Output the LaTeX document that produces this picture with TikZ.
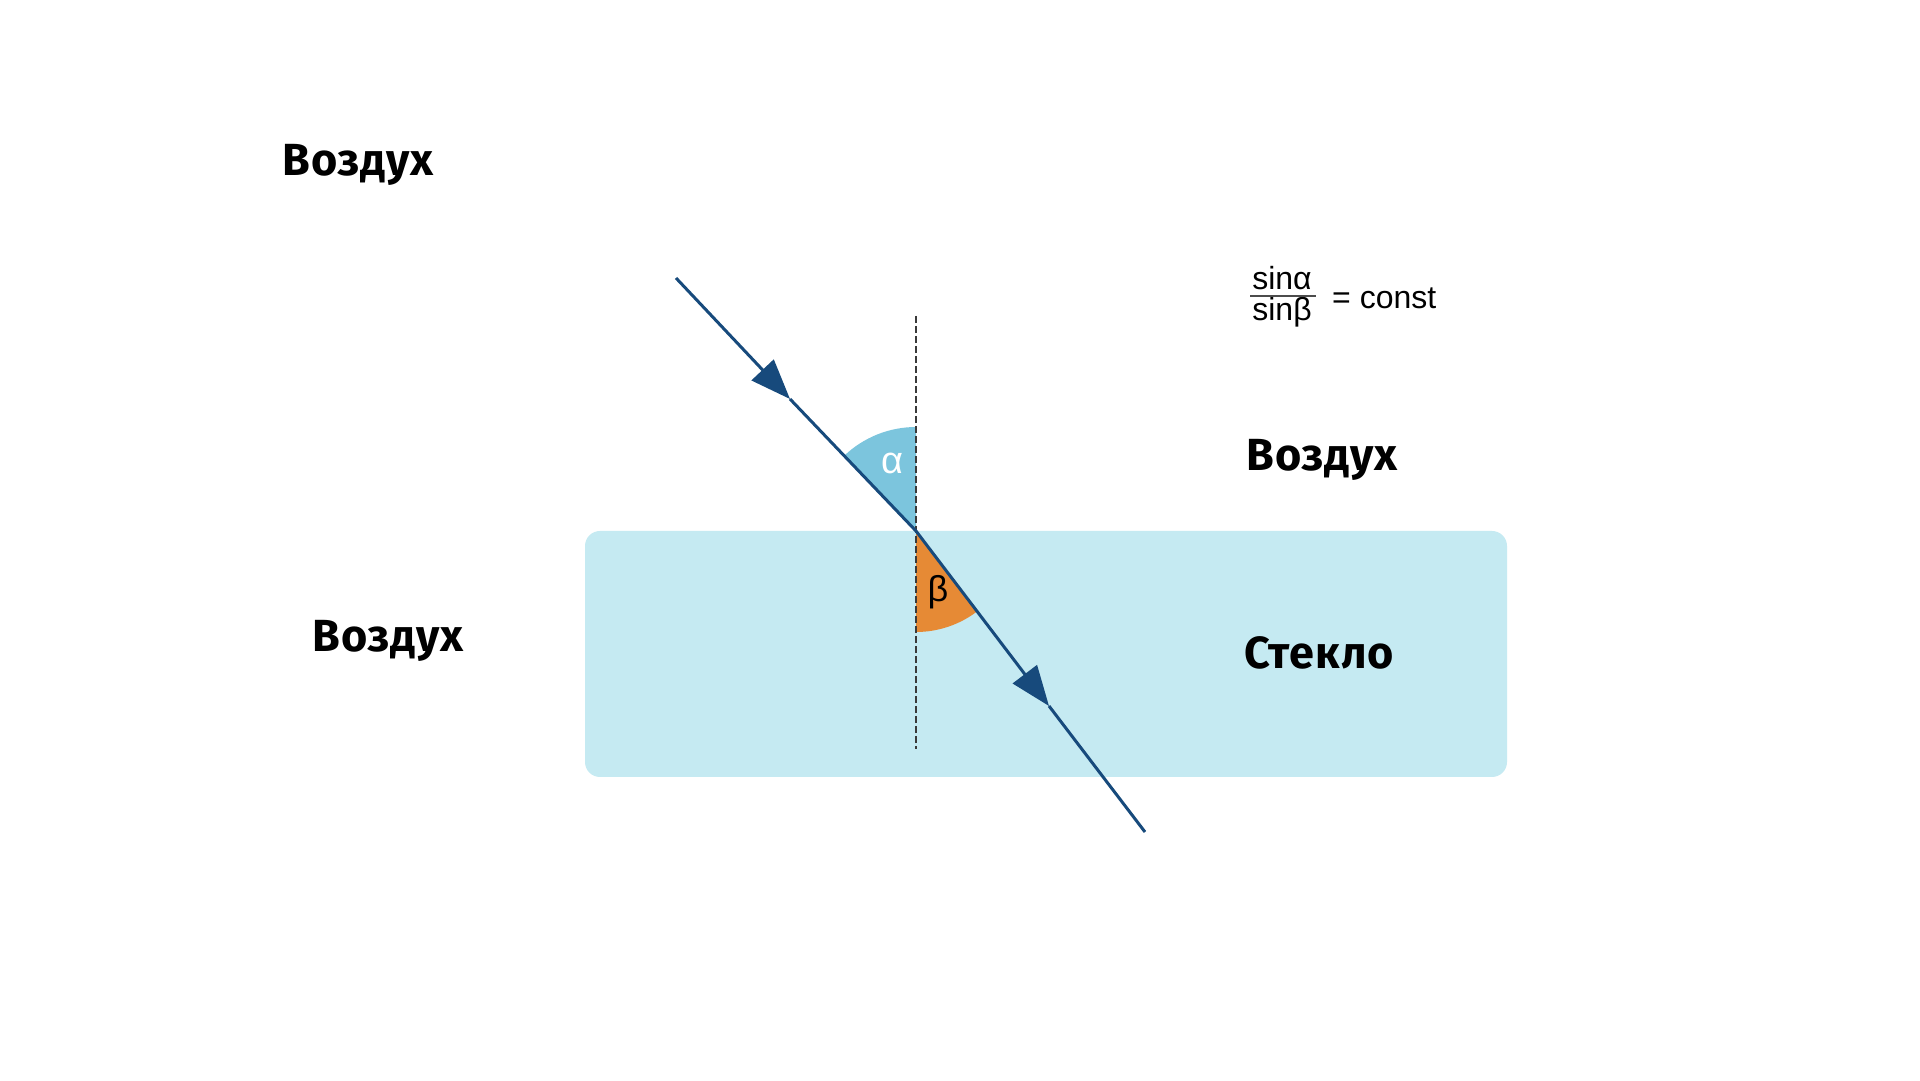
\documentclass[tikz,border=0pt]{standalone}
\usepackage{fontspec}
\setmainfont{Liberation Sans}
\newfontfamily\lblfont[LetterSpace=2.0]{Fira Sans}
\usetikzlibrary{arrows.meta}
\definecolor{glass}{HTML}{C5EAF2}
\definecolor{raycol}{HTML}{174A7C}
\definecolor{alphacol}{HTML}{7CC5DD}
\definecolor{betacol}{HTML}{E68A35}
\definecolor{dashcol}{HTML}{3A3A3A}
\tikzset{
  medium/.style={font=\lblfont\bfseries\fontsize{45}{50}\selectfont, inner sep=0pt, text=black},
  ray/.style={draw=raycol, line width=3pt},
  rayarrow/.style={ray, -{Triangle[length=40pt,width=30pt]}},
  normal/.style={draw=dashcol, line width=1.2pt, dash pattern=on 7pt off 3pt},
  formula/.style={font=\fontsize{32}{34}\selectfont, inner sep=0pt, anchor=base},
}
\begin{document}
\begin{tikzpicture}[x=1pt,y=1pt]
\useasboundingbox (0,0) rectangle (1920,1080);
\fill[white] (0,0) rectangle (1920,1080);
% glass
\fill[glass, rounded corners=15pt] (585,303) rectangle (1507,549);
% coordinates
\coordinate (I) at (916,549);
\coordinate (S) at (676,802);
\coordinate (T1) at (790,681);
\coordinate (T2) at (1049,374);
\coordinate (E) at (1145,248);
\coordinate (NT) at (916,764);
\coordinate (NB) at (916,331);
% angles
\fill[alphacol] (I) -- ++(0,104) arc[start angle=90, end angle=133.5, radius=104] -- cycle;
\fill[betacol] (I) -- ++(0,-101) arc[start angle=-90, end angle=-52.7, radius=101] -- cycle;
% normal
\draw[normal] (NT) -- (NB);
% ray
\draw[rayarrow] (S) -- (T1);
\draw[ray] (T1) -- (I);
\draw[rayarrow] (I) -- (T2);
\draw[ray] (T2) -- (E);
% angle labels
\node[font=\fontsize{38}{40}\selectfont, text=white, inner sep=0pt] (al) at (892,617) {α};
\node[font=\fontsize{36}{38}\selectfont, text=black, inner sep=0pt] (bl) at (938,488) {β};
% media labels
\node[medium] (air1) at (358,915) {Воздух};
\node[medium] (air2) at (1322,620) {Воздух};
\node[medium] (air3) at (388,439) {Воздух};
\node[medium] (glasslbl) at (1319,427) {Стекло};
% formula
\node[formula] (num) at (1282,790) {sinα};
\node[formula] (den) at (1282,759) {sinβ};
\draw[line width=1.2pt, draw=black!70] (1250,784) -- (1316,784);
\node[formula, anchor=base west] (eq) at (1332,771) {= const};
\end{tikzpicture}
\end{document}
